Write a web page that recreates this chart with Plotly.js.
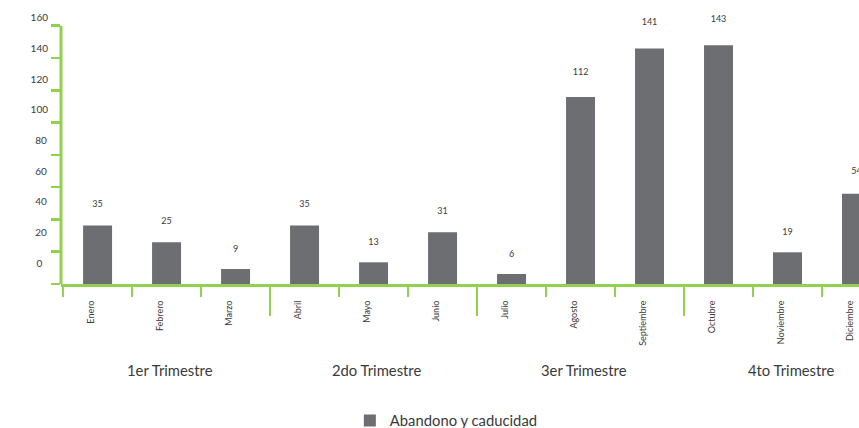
<!DOCTYPE html>
<html>
<head>
<meta charset="utf-8">
<script src="https://cdn.plot.ly/plotly-3.0.1.min.js"></script>
<style>
  html, body { margin: 0; padding: 0; overflow: hidden; background: #fff; }
  #chart { width: 900px; height: 428px; }
</style>
</head>
<body>
<div id="chart"></div>
<script>
// ---- data ----
const months = ["Enero", "Febrero", "Marzo", "Abril", "Mayo", "Junio", "Julio",
                "Agosto", "Septiembre", "Octubre", "Noviembre", "Diciembre"];
const values = [35, 25, 9, 35, 13, 31, 6, 112, 141, 143, 19, 54];
const quarters = ["1er Trimestre", "2do Trimestre", "3er Trimestre", "4to Trimestre"];
const yTickVals = [0, 20, 40, 60, 80, 100, 120, 140, 160];
const seriesName = "Abandono y caducidad";

// ---- styles ----
const green = "#92D050";
const barColor = "#6d6e71";
const txt = "#3a3a3a";
const fam = "Lato, 'Open Sans', sans-serif";

const idx = months.map((_, i) => i);
// pad short labels so they appear centred like the reference
const yTickText = yTickVals.map(v => {
  const s = String(v);
  if (s.length === 1) return s + "\u2007";
  if (s.length === 2) return s + "\u2009";
  return s;
});

const traces = [
  {
    type: "bar",
    x: months,
    y: values,
    name: seriesName,
    marker: { color: barColor },
    hoverinfo: "x+y"
  },
  {
    type: "scatter",
    mode: "text",
    x: idx,
    y: values,
    text: values.map(String),
    textposition: "middle center",
    textfont: { size: 9, color: txt, family: fam },
    xaxis: "x2",
    yaxis: "y4",
    showlegend: false,
    hoverinfo: "skip",
    cliponaxis: false
  },
  { type: "scatter", x: [], y: [], yaxis: "y2", showlegend: false, hoverinfo: "skip" },
  { type: "scatter", x: [], y: [], yaxis: "y3", showlegend: false, hoverinfo: "skip" }
];

const xr = [-0.53, 11.5];
const annotations = quarters.map((q, k) => ({
  text: q,
  xref: "x2",
  x: k * 3 + 1,
  xshift: 3,
  yref: "paper",
  y: -0.314,
  yanchor: "middle",
  xanchor: "center",
  showarrow: false,
  font: { size: 14.8, color: txt, family: fam }
}));

const layout = {
  width: 900,
  height: 428,
  margin: { l: 61, r: 9, t: 10, b: 144, autoexpand: false },
  paper_bgcolor: "#fff",
  plot_bgcolor: "#fff",
  font: { family: fam, color: txt },
  bargap: 0.58,
  showlegend: true,
  legend: {
    orientation: "h",
    x: 0.348,
    xanchor: "left",
    y: -0.5,
    yanchor: "middle",
    font: { size: 14.8, color: txt, family: fam },
    bgcolor: "rgba(0,0,0,0)"
  },
  xaxis: {
    type: "category",
    range: xr,
    showline: true,
    linecolor: green,
    linewidth: 3,
    ticks: "outside",
    tickson: "boundaries",
    ticklen: 10,
    tickwidth: 2.5,
    tickcolor: green,
    tickangle: -90,
    tickfont: { size: 9, color: txt, family: fam },
    ticklabelshift: -6,
    ticklabelstandoff: 10,
    showgrid: false,
    zeroline: false
  },
  xaxis2: {
    type: "linear",
    overlaying: "x",
    anchor: "y",
    side: "bottom",
    range: xr,
    tickmode: "array",
    tickvals: [2.5, 5.5, 8.5],
    ticks: "outside",
    ticklen: 31,
    tickwidth: 2.5,
    tickcolor: green,
    showticklabels: false,
    showgrid: false,
    zeroline: false,
    showline: false
  },
  yaxis: {
    range: [0, 164.1],
    showline: false,
    showticklabels: false,
    ticks: "",
    showgrid: false,
    zeroline: false
  },
  yaxis2: {
    overlaying: "y",
    anchor: "x",
    side: "left",
    range: [0, 169.7],
    tickmode: "array",
    tickvals: yTickVals,
    ticks: "outside",
    ticklen: 9,
    tickwidth: 2.5,
    tickcolor: green,
    showticklabels: false,
    showgrid: false,
    zeroline: false,
    showline: false
  },
  yaxis3: {
    overlaying: "y",
    anchor: "x",
    side: "left",
    range: [-13.7, 165.2],
    tickmode: "array",
    tickvals: yTickVals,
    ticktext: yTickText,
    ticks: "",
    ticklabelstandoff: 12,
    tickfont: { size: 10, color: txt, family: fam },
    showgrid: false,
    zeroline: false,
    showline: false
  },
  yaxis4: {
    overlaying: "y",
    anchor: "x",
    range: [-11.06, 148.4],
    visible: false
  },
  shapes: [{
    type: "line",
    xref: "paper", x0: 0, x1: 0,
    yref: "y2", y0: 0, y1: 160,
    line: { color: green, width: 3 }
  }],
  annotations: annotations
};

Plotly.newPlot("chart", traces, layout, { displayModeBar: false, staticPlot: true });
</script>
</body>
</html>
